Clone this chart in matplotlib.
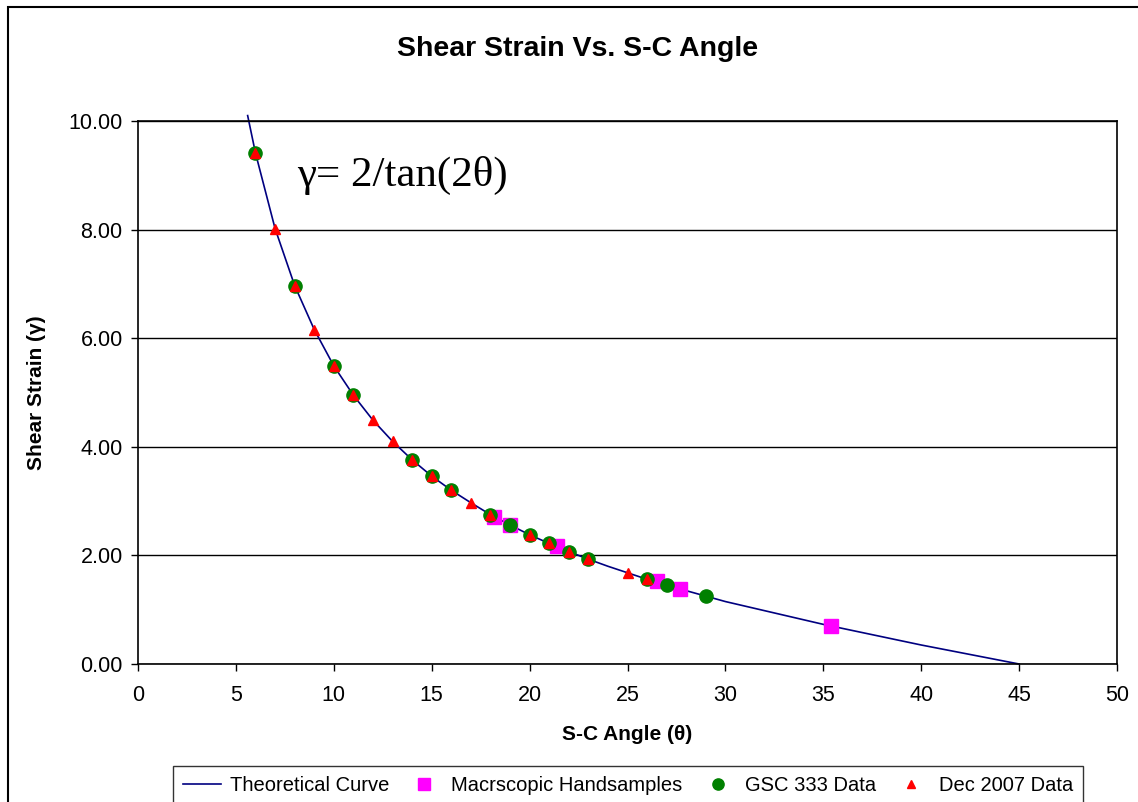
import matplotlib
matplotlib.use("Agg")
import matplotlib.pyplot as plt
from matplotlib.patches import Rectangle
from matplotlib.ticker import MultipleLocator, FormatStrFormatter

plt.rcParams["font.family"] = ["Liberation Sans", "DejaVu Sans"]

# theoretical curve
curve_theta = [5.6, 6, 7, 8, 9, 10, 11, 12, 13, 14, 15, 16, 17, 18, 19, 20,
               21, 22, 23, 24, 25, 26, 27, 28, 29, 30, 35, 40, 45]
curve_gamma = [10.10, 9.41, 8.02, 6.97, 6.16, 5.49, 4.95, 4.49, 4.10, 3.76,
               3.46, 3.20, 2.97, 2.75, 2.56, 2.38, 2.22, 2.07, 1.93, 1.80,
               1.68, 1.56, 1.45, 1.35, 1.25, 1.15, 0.73, 0.35, 0.00]

hand_theta = [18.2, 19.0, 21.4, 26.5, 27.7, 35.4]
hand_gamma = [2.71, 2.56, 2.17, 1.52, 1.39, 0.70]

gsc_theta = [6, 8, 10, 11, 14, 15, 16, 18, 19, 20, 21, 22, 23, 26, 27, 29]
gsc_gamma = [9.41, 6.97, 5.49, 4.95, 3.76, 3.46, 3.20, 2.75, 2.56, 2.38,
             2.22, 2.07, 1.93, 1.56, 1.45, 1.25]

dec_theta = [6, 7, 8, 9, 10, 11, 12, 13, 14, 15, 16, 17, 18, 20, 21, 22, 23,
             25, 26]
dec_gamma = [9.41, 8.02, 6.97, 6.16, 5.49, 4.95, 4.49, 4.10, 3.76, 3.46,
             3.20, 2.97, 2.75, 2.38, 2.22, 2.07, 1.93, 1.68, 1.56]

W, H = 1138, 802
fig = plt.figure(figsize=(W / 100, H / 100), dpi=100)
ax = fig.add_axes([138 / W, 1 - 664 / H, (1117 - 138) / W, (664 - 121) / H])

# chart outline (right and bottom run off the image)
fig.patches.append(Rectangle((8 / W, -0.1), 1.2, 1 - 7 / H + 0.1,
                             transform=fig.transFigure, fill=False,
                             edgecolor="black", lw=1.5))

ax.plot(curve_theta, curve_gamma, color="#000080", lw=1.2,
        label="Theoretical Curve", clip_on=False, zorder=2)
ax.plot(hand_theta, hand_gamma, ls="none", marker="s", ms=9.5,
        color="#FF00FF", label="Macrscopic Handsamples", zorder=3)
ax.plot(gsc_theta, gsc_gamma, ls="none", marker="o", ms=9.5,
        color="#008000", label="GSC 333 Data", zorder=4)
ax.plot(dec_theta, dec_gamma, ls="none", marker="^", ms=7,
        color="#FF0000", label="Dec 2007 Data", zorder=5)

ax.set_xlim(0, 50)
ax.set_ylim(0, 10)
ax.xaxis.set_major_locator(MultipleLocator(5))
ax.yaxis.set_major_locator(MultipleLocator(2))
ax.yaxis.set_major_formatter(FormatStrFormatter("%.2f"))
ax.tick_params(direction="out", length=5, width=1, labelsize=15.5)
ax.tick_params(axis="x", pad=10)
ax.tick_params(axis="y", pad=6)
ax.grid(axis="y", color="black", lw=1)
ax.set_axisbelow(True)
for s in ax.spines.values():
    s.set_linewidth(1.2)

ax.set_xlabel("S-C Angle (θ)", fontsize=15, fontweight="bold", labelpad=14)
ax.set_ylabel("Shear Strain (γ)", fontsize=15, fontweight="bold", labelpad=16)

fig.text(578 / W, 1 - 49 / H, "Shear Strain Vs. S-C Angle", fontsize=20.5,
         fontweight="bold", ha="center", va="center")

ax.text(8.15, 8.8, "γ= 2/tan(2θ)", fontsize=31, family="Liberation Serif",
        ha="left", va="baseline")

leg = fig.legend(loc="upper center", bbox_to_anchor=(628 / W, 1 - 766 / H),
                 ncol=4, fontsize=14.5, frameon=True, fancybox=False,
                 edgecolor="black", handlelength=1.9, columnspacing=0.8,
                 borderpad=0.5, handletextpad=0.4, borderaxespad=0,
                 markerscale=0.85)
leg.get_frame().set_linewidth(1.0)

fig.savefig("out.png", dpi=100)
